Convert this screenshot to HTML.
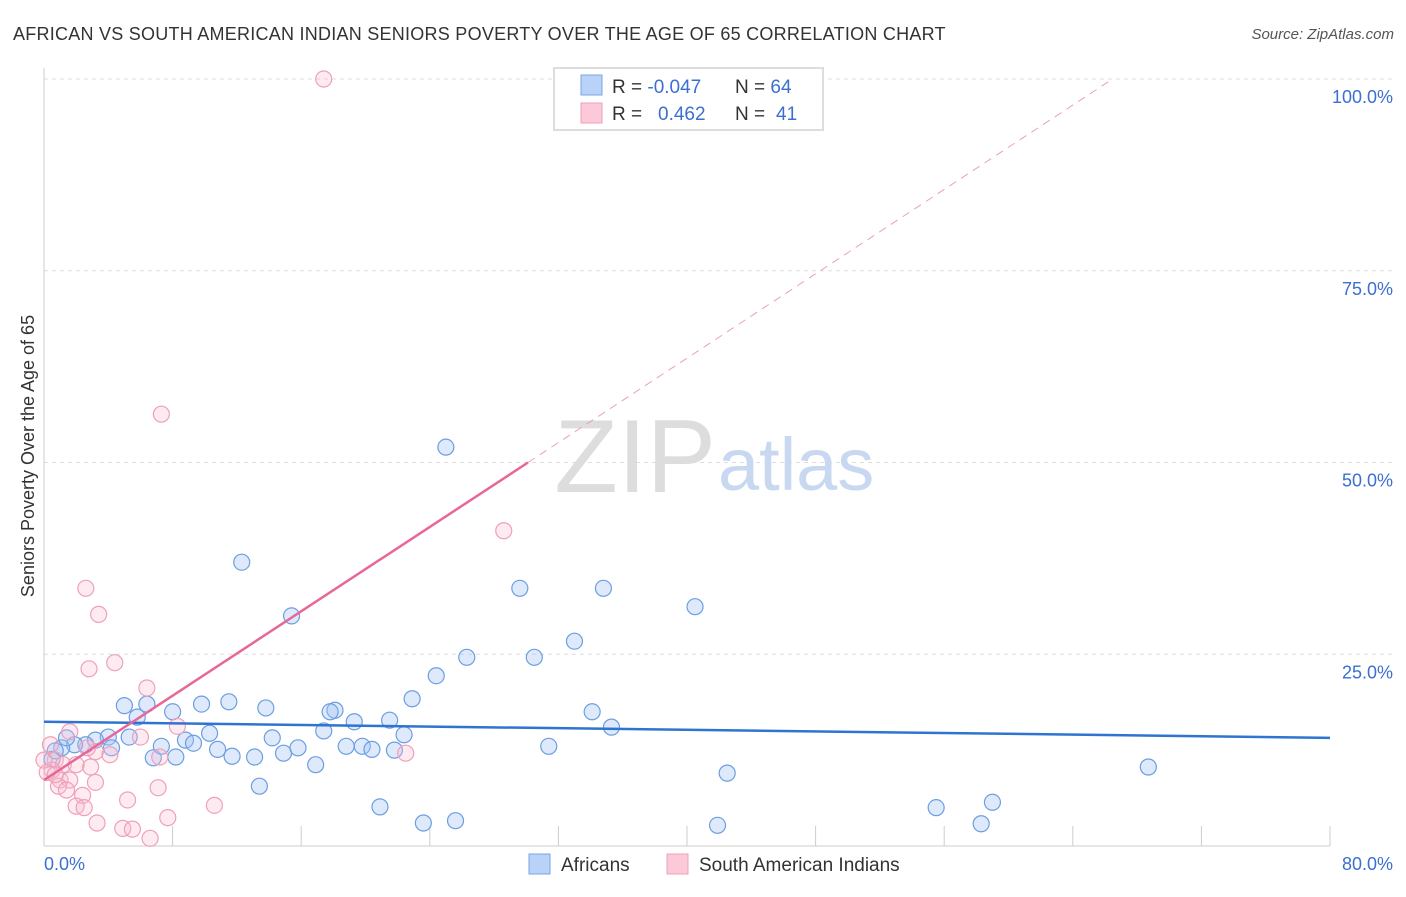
<!DOCTYPE html>
<html><head><meta charset="utf-8"><style>
body{margin:0;background:#fff;font-family:"Liberation Sans",sans-serif;}
svg text{font-family:"Liberation Sans",sans-serif;}
</style></head><body>
<svg width="1406" height="892" viewBox="0 0 1406 892">
<text x="13" y="40" font-size="18" fill="#333" letter-spacing="0.25">AFRICAN VS SOUTH AMERICAN INDIAN SENIORS POVERTY OVER THE AGE OF 65 CORRELATION CHART</text>
<text x="1394" y="39" font-size="15" fill="#555" font-style="italic" text-anchor="end">Source: ZipAtlas.com</text>
<text x="34" y="456" font-size="18" fill="#333" text-anchor="middle" transform="rotate(-90 34 456)">Seniors Poverty Over the Age of 65</text>
<g id="grid"></g>
<g id="xticks"></g>
<line x1="44" y1="68" x2="44" y2="846" stroke="#ccc"/>
<line x1="44" y1="846" x2="1330" y2="846" stroke="#ccc"/>
<text x="716" y="492" font-size="104" fill="#ddd" font-family="Liberation Serif" text-anchor="end">ZIP</text>
<text x="718" y="490" font-size="74" fill="#c8d8f0">atlas</text>
<g id="pts"></g>
<g id="trends"></g>
<text x="44" y="870" font-size="18" fill="#3b6fd1">0.0%</text>
<text x="1393" y="870" font-size="18" fill="#3b6fd1" text-anchor="end">80.0%</text>
<g id="ylabels"></g>
<g>
<rect x="554" y="68" width="269" height="62" fill="#fff" stroke="#ddd" stroke-width="2"/>
<rect x="581" y="75" width="21" height="20" fill="#b8d3f7" stroke="#7aa6e6"/>
<rect x="581" y="103" width="21" height="20" fill="#fcc9d8" stroke="#f0a0b8"/>
<text x="612" y="93" font-size="19" fill="#333">R = <tspan fill="#3b6fd1">-0.047</tspan></text>
<text x="735" y="93" font-size="19" fill="#333">N = <tspan fill="#3b6fd1">64</tspan></text>
<text x="612" y="120" font-size="19" fill="#333">R = </text>
<text x="658" y="120" font-size="19" fill="#3b6fd1">0.462</text>
<text x="735" y="120" font-size="19" fill="#333">N = </text>
<text x="776" y="120" font-size="19" fill="#3b6fd1">41</text>
</g>
<g>
<rect x="529" y="854" width="21" height="20" fill="#b8d3f7" stroke="#7aa6e6"/>
<text x="561" y="871" font-size="19" fill="#333">Africans</text>
<rect x="667" y="854" width="21" height="20" fill="#fcc9d8" stroke="#f0a0b8"/>
<text x="699" y="871" font-size="19" fill="#333">South American Indians</text>
</g>
</svg>
<script>
const blueX=[25.0,12.3,15.4,29.6,34.8,40.5,33.0,30.5,26.3,24.4,22.9,13.8,11.5,9.8,6.4,5.0,8.0,5.8,18.1,17.8,19.3,21.5,17.4,22.4,34.1,35.3,31.4,19.8,18.8,20.4,21.8,14.9,15.8,14.2,10.3,8.8,9.3,10.8,11.7,13.1,8.2,6.8,7.3,5.3,4.0,4.2,3.2,2.6,1.9,1.1,0.7,0.5,1.4,16.9,13.4,20.9,23.6,25.6,41.9,42.5,55.5,58.3,59.0,68.7];
const blueY=[52.0,37.0,30.0,33.6,33.6,31.2,26.7,24.6,24.6,22.2,19.2,18.0,18.8,18.5,18.5,18.3,17.5,16.8,17.7,17.5,16.2,16.4,15.0,14.5,17.5,15.5,13.0,13.0,13.0,12.6,12.5,12.1,12.8,14.1,14.7,13.8,13.4,12.6,11.7,11.6,11.6,11.5,13.0,14.2,14.2,12.8,13.8,13.2,13.2,12.8,12.4,11.3,14.1,10.6,7.8,5.1,3.0,3.3,2.7,9.5,5.0,2.9,5.7,10.3];
const pinkX=[17.4,7.3,28.6,2.6,3.4,2.8,4.4,6.4,8.3,1.6,6.0,7.2,3.2,4.1,2.7,22.5,0.4,0.7,1.2,2.0,0.5,0.2,2.9,1.0,1.6,0.9,2.4,3.2,5.2,7.1,2.0,2.5,10.6,3.3,4.9,5.5,7.7,6.6,0.0,0.7,1.4];
const pinkY=[100,56.3,41.1,33.6,30.2,23.1,23.9,20.6,15.6,14.9,14.2,11.6,12.3,11.9,12.8,12.1,13.2,11.2,10.6,10.6,9.9,9.6,10.3,8.6,8.6,7.8,6.6,8.3,6.0,7.6,5.2,5.0,5.3,3.0,2.3,2.2,3.7,1.0,11.2,9.3,7.3];
const blueTrend=[16.2,14.1];
const pinkTrend=[8.6,1.375];
const yTicks=[25,50,75,100];
const xTicks=[0,8,16,24,32,40,48,56,64,72,80];
const NS='http://www.w3.org/2000/svg';
const sx=v=>44+v*16.075, sy=v=>846-v*7.67;
function mk(t,a,p){const e=document.createElementNS(NS,t);for(const k in a)e.setAttribute(k,a[k]);p.appendChild(e);return e;}
const grid=document.getElementById('grid'),yl=document.getElementById('ylabels'),xt=document.getElementById('xticks');
yTicks.forEach(v=>{const l=mk('line',{x1:44,x2:1393,y1:sy(v),y2:sy(v),stroke:'#ddd','stroke-dasharray':'4,4'},grid);


const t=mk('text',{x:1393,y:sy(v)+24,'font-size':18,fill:'#3b6fd1','text-anchor':'end'},yl);t.textContent=v.toFixed(1)+'%';

});
xTicks.forEach(v=>{const l=mk('line',{x1:sx(v),x2:sx(v),y1:826,y2:846,stroke:'#ccc'},xt);

});
const pts=document.getElementById('pts');
blueX.forEach((x,i)=>{const c=mk('circle',{cx:sx(x),cy:sy(blueY[i]),r:8,fill:'rgba(160,195,245,0.35)',stroke:'#6c9ee0','stroke-width':1.2},pts);

});
pinkX.forEach((x,i)=>{const c=mk('circle',{cx:sx(x),cy:sy(pinkY[i]),r:8,fill:'rgba(250,190,210,0.3)',stroke:'#f0a0b8','stroke-width':1.2},pts);

});
const tr=document.getElementById('trends');
const b=mk('line',{x1:sx(0),y1:sy(blueTrend[0]),x2:sx(80),y2:sy(blueTrend[1]),stroke:'#2f74d0','stroke-width':2.5},tr);


const pv=x=>pinkTrend[0]+pinkTrend[1]*x;
const xs=(50-pinkTrend[0])/pinkTrend[1], xe=(100-pinkTrend[0])/pinkTrend[1];
const p1=mk('line',{x1:sx(0),y1:sy(pv(0)),x2:sx(xs),y2:sy(pv(xs)),stroke:'#e8679a','stroke-width':2.5},tr);


const p2=mk('line',{x1:sx(xs),y1:sy(pv(xs)),x2:sx(xe),y2:sy(pv(xe)),stroke:'#eaa0b8','stroke-width':1,'stroke-dasharray':'8,6'},tr);


</script>
</body></html>
